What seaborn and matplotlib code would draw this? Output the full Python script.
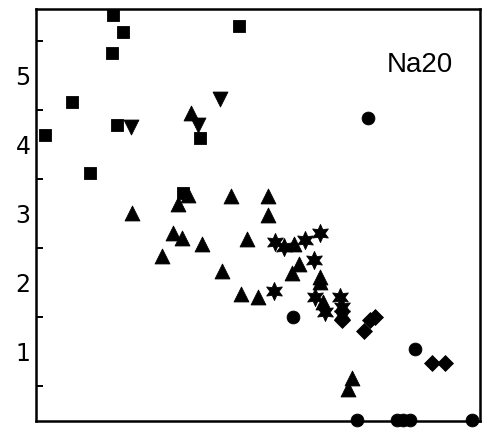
import matplotlib
matplotlib.use("Agg")
import matplotlib.pyplot as plt
import seaborn as sns
import pandas as pd

sns.set_theme(style="white")
plt.rcParams['font.family'] = ['Liberation Sans', 'DejaVu Sans']

# --- data (x in tick units, y = Na2O wt%) ---
sq_x = [1.66, 1.86, 1.64, 0.84, 0.30, 1.74, 1.20, 3.40, 4.18, 3.06]
sq_y = [5.87, 5.62, 5.32, 4.61, 4.13, 4.28, 3.58, 4.09, 5.72, 3.29]

dn_x = [2.02, 3.36, 3.80]
dn_y = [4.25, 4.28, 4.65]

up_x = [3.22, 2.04, 2.96, 3.16, 4.02, 4.76, 4.76, 2.86, 3.04, 3.44, 2.64, 4.34,
        3.84, 4.22, 4.56, 5.28, 5.38, 5.24, 5.80, 5.80, 5.86, 6.44, 6.36]
up_y = [4.45, 3.01, 3.14, 3.26, 3.25, 3.25, 2.97, 2.72, 2.64, 2.55, 2.38, 2.62,
        2.17, 1.83, 1.78, 2.55, 2.26, 2.14, 2.07, 2.00, 1.71, 0.61, 0.46]

st_x = [5.80, 4.90, 5.08, 5.50, 5.68, 4.88, 5.70, 5.90, 6.20, 6.24, 6.24]
st_y = [2.72, 2.58, 2.51, 2.61, 2.33, 1.88, 1.78, 1.57, 1.78, 1.64, 1.52]

di_x = [6.24, 6.68, 6.80, 6.90, 8.04, 8.30]
di_y = [1.45, 1.30, 1.45, 1.49, 0.83, 0.83]

ci_x = [6.76, 5.26, 7.70, 6.54, 7.34, 7.46, 7.60, 8.84]
ci_y = [4.38, 1.49, 1.04, 0.01, 0.01, 0.01, 0.01, 0.01]

y_ticks = [1, 2, 3, 4, 5]
x_ticks = [1, 2, 3, 4, 5, 6, 7, 8]
label = "Na20"

groups = [
    (sq_x, sq_y, "s", 80),
    (dn_x, dn_y, "v", 115),
    (up_x, up_y, "^", 115),
    (st_x, st_y, (6, 1, 0), 170),
    (di_x, di_y, "D", 65),
    (ci_x, ci_y, "o", 85),
]

fig = plt.figure(figsize=(4.91, 4.30), dpi=100)
ax = fig.add_axes([36/491, 9/430, 444/491, 412/430])

for gx, gy, m, s in groups:
    df = pd.DataFrame({"x": gx, "y": gy})
    sns.scatterplot(data=df, x="x", y="y", marker=m, s=s, color="black",
                    edgecolor="black", linewidth=0.6, ax=ax, clip_on=False, zorder=3)

ax.set_xlim(0.12, 9.0)
ax.set_ylim(-0.01, 5.96)
ax.set_xticks(x_ticks)
ax.set_xticklabels([])
ax.set_yticks(y_ticks)
ax.set_yticklabels([str(v) for v in y_ticks], fontsize=17, family="DejaVu Sans")
ax.set_yticks([0.5, 1.5, 2.5, 3.5, 4.5, 5.5], minor=True)
ax.tick_params(axis="both", which="major", direction="in", length=11, width=1.6,
               color="black", pad=4, labelcolor="black")
ax.tick_params(axis="y", which="minor", direction="in", length=5, width=1.4,
               color="black", left=True)
ax.tick_params(top=False, right=False)
ax.set_xlabel("")
ax.set_ylabel("")
for sp in ax.spines.values():
    sp.set_color("black")
    sp.set_linewidth(1.8)

ax.text(0.865, 0.864, label, transform=ax.transAxes, ha="center", va="center",
        fontsize=20, color="black")

fig.savefig("out.png", dpi=100, facecolor="white")
